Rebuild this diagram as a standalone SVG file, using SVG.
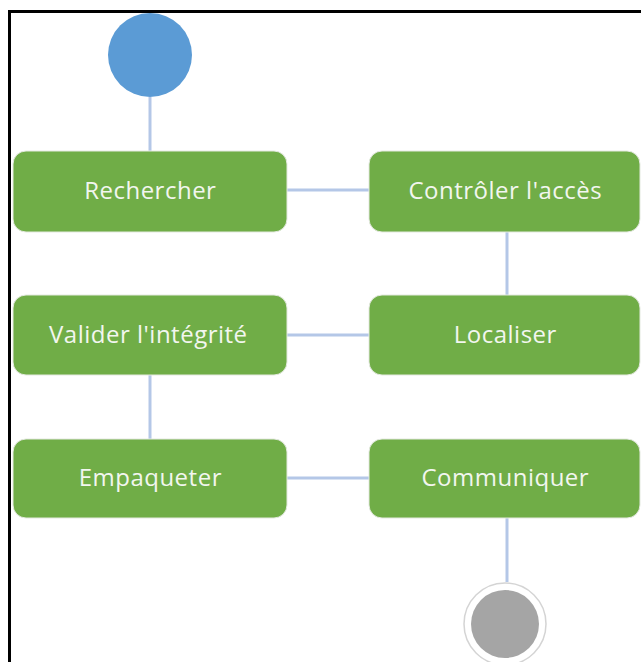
<svg xmlns="http://www.w3.org/2000/svg" width="641" height="662" viewBox="0 0 641 662">
  <style>
    .act rect { fill: #70ad47; stroke: #e4e9e0; stroke-width: 1; }
    .act text { fill: #f2f6ef; font-family: "Open Sans", "Liberation Sans", sans-serif; font-size: 24px; font-weight: 500; letter-spacing: 0.5px; text-anchor: middle; }
    .conn { stroke: #b4c7e7; stroke-width: 3; fill: none; }
  </style>
  <rect x="0" y="0" width="641" height="662" fill="#ffffff"/>
  <!-- frame (left and top edges) -->
  <path d="M9.5,662 V11.5 H641" fill="none" stroke="#000000" stroke-width="3"/>

  <g id="connectors">
    <line class="conn" x1="150" y1="97" x2="150" y2="151"/>
    <line class="conn" x1="287" y1="190" x2="369" y2="190"/>
    <line class="conn" x1="507" y1="232" x2="507" y2="295"/>
    <line class="conn" x1="287" y1="335" x2="369" y2="335"/>
    <line class="conn" x1="150" y1="375" x2="150" y2="439"/>
    <line class="conn" x1="287" y1="478" x2="369" y2="478"/>
    <line class="conn" x1="507" y1="518" x2="507" y2="582"/>
  </g>

  <g id="start">
    <circle cx="150" cy="55" r="42" fill="#5b9bd5"/>
  </g>

  <g id="rechercher" class="act">
    <rect x="13" y="151" width="274" height="81" rx="13"/>
    <text x="150.3" y="199">Rechercher</text>
  </g>
  <g id="controler" class="act">
    <rect x="369" y="151" width="271" height="81" rx="13"/>
    <text x="505.3" y="199">Contrôler l'accès</text>
  </g>
  <g id="valider" class="act">
    <rect x="13" y="295" width="274" height="80" rx="13"/>
    <text x="148.3" y="343">Valider l'intégrité</text>
  </g>
  <g id="localiser" class="act">
    <rect x="369" y="295" width="271" height="80" rx="13"/>
    <text x="505.3" y="343">Localiser</text>
  </g>
  <g id="empaqueter" class="act">
    <rect x="13" y="439" width="274" height="79" rx="13"/>
    <text x="150.3" y="486">Empaqueter</text>
  </g>
  <g id="communiquer" class="act">
    <rect x="369" y="439" width="271" height="79" rx="13"/>
    <text x="505.3" y="486">Communiquer</text>
  </g>

  <g id="end">
    <circle cx="505" cy="624" r="41" fill="#ffffff" stroke="#d4d4d4" stroke-width="1.5"/>
    <circle cx="505" cy="624" r="34" fill="#a5a5a5"/>
  </g>
</svg>
